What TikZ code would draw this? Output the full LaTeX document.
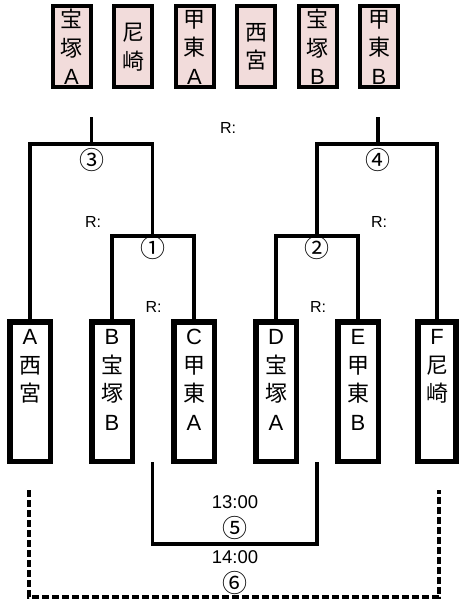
\documentclass[tikz,border=0pt]{standalone}
\usepackage{fontspec}
\setmainfont{Liberation Sans}
\newfontfamily\cjk{Noto Sans CJK JP}
\usetikzlibrary{shapes,arrows}
\definecolor{seedpink}{RGB}{242,220,219}
\tikzstyle{line} = [draw, line width=3.4pt]
\tikzstyle{dline} = [draw, line width=3.2pt, dash pattern=on 7pt off 3pt]
\tikzstyle{seedbox} = [rectangle, draw, line width=4pt, fill=seedpink, minimum width=38pt, minimum height=81pt, inner sep=0pt, align=center, node distance=61.5pt, font=\fontsize{22}{28.5}\selectfont]
\tikzstyle{teambox} = [rectangle, draw, line width=5.5pt, fill=white, minimum width=40.5pt, minimum height=139.5pt, inner sep=0pt, node distance=82pt, font=\fontsize{22}{28.5}\selectfont]
\tikzstyle{rlab} = [inner sep=0pt, font=\fontsize{16}{16}\selectfont]
\tikzstyle{num} = [inner sep=0pt, font=\cjk\fontsize{25}{25}\selectfont]
\tikzstyle{clock} = [inner sep=0pt, font=\fontsize{18.5}{18.5}\selectfont]
\newcommand{\jp}[1]{{\cjk #1}}
\newcommand{\tateban}[1]{\parbox[c][132pt][t]{38pt}{\vspace*{4pt}\centering #1}}

\begin{document}
\begin{tikzpicture}[x=1pt, y=-1pt]
	\useasboundingbox (0,0) rectangle (460,601);
	
	% seed order
	\node [seedbox] (s1) at (71.5,47) {\jp{宝}\\\jp{塚}\\A};
	\node [seedbox, right of=s1] (s2) {\jp{尼}\\\jp{崎}};
	\node [seedbox, right of=s2] (s3) {\jp{甲}\\\jp{東}\\A};
	\node [seedbox, right of=s3] (s4) {\jp{西}\\\jp{宮}};
	\node [seedbox, right of=s4] (s5) {\jp{宝}\\\jp{塚}\\B};
	\node [seedbox, right of=s5] (s6) {\jp{甲}\\\jp{東}\\B};
	
	% teams
	\node [teambox] (tA) at (30,391.5) {\tateban{A\\\jp{西}\\\jp{宮}}};
	\node [teambox, right of=tA] (tB) {\tateban{B\\\jp{宝}\\\jp{塚}\\B}};
	\node [teambox, right of=tB] (tC) {\tateban{C\\\jp{甲}\\\jp{東}\\A}};
	\node [teambox, right of=tC] (tD) {\tateban{D\\\jp{宝}\\\jp{塚}\\A}};
	\node [teambox, right of=tD] (tE) {\tateban{E\\\jp{甲}\\\jp{東}\\B}};
	\node [teambox, right of=tE, minimum width=34pt, xshift=-3pt] (tF) {\tateban{F\\\jp{尼}\\\jp{崎}}};
	
	% left half
	\coordinate (m1) at (152.5,236);
	\coordinate (m3) at (91.5,144);
	\coordinate (top3) at (91.5,117);
	\path [line] (tB.north) |- (m1) -| (tC.north);
	\path [line] (tA.north) |- (m3) -| (m1);
	\path [line] (m3) -- (top3);
	\node [num] (n1) at ([yshift=-12.5pt]m1) {①};
	\node [num] (n3) at ([yshift=-16pt]m3) {③};
	\node [rlab] (r1) at (153.5,307) {R:};
	\node [rlab] (r3) at (93,222) {R:};
	
	% right half
	\coordinate (m2) at (317,236);
	\coordinate (m4) at (378,144);
	\coordinate (top4) at (378,117);
	\path [line] (tD.north) |- (m2) -| (tE.north);
	\path [line] (m2) |- (m4) -| (tF.north);
	\path [line] (m4) -- (top4);
	\node [num] (n2) at ([yshift=-12pt]m2) {②};
	\node [num] (n4) at ([yshift=-16pt]m4) {④};
	\node [rlab] (r2) at (318,307) {R:};
	\node [rlab] (r4) at (379,222) {R:};
	
	\node [rlab] (rf) at (228,128) {R:};
	
	% placing games
	\coordinate (p5l) at (152.5,462);
	\coordinate (p5r) at (317,462);
	\coordinate (b5) at (235,544);
	\path [line] (p5l) |- (b5) -| (p5r);
	\node [clock] (t5) at (235,502) {13:00};
	\node [num] (n5) at (235,528) {⑤};
	
	\coordinate (p6l) at (29,490);
	\coordinate (p6r) at (439,490);
	\coordinate (b6) at (235,597);
	\path [dline] (p6l) |- (b6) -| (p6r);
	\node [clock] (t6) at (235,557) {14:00};
	\node [num] (n6) at (235,583) {⑥};
\end{tikzpicture}
\end{document}
